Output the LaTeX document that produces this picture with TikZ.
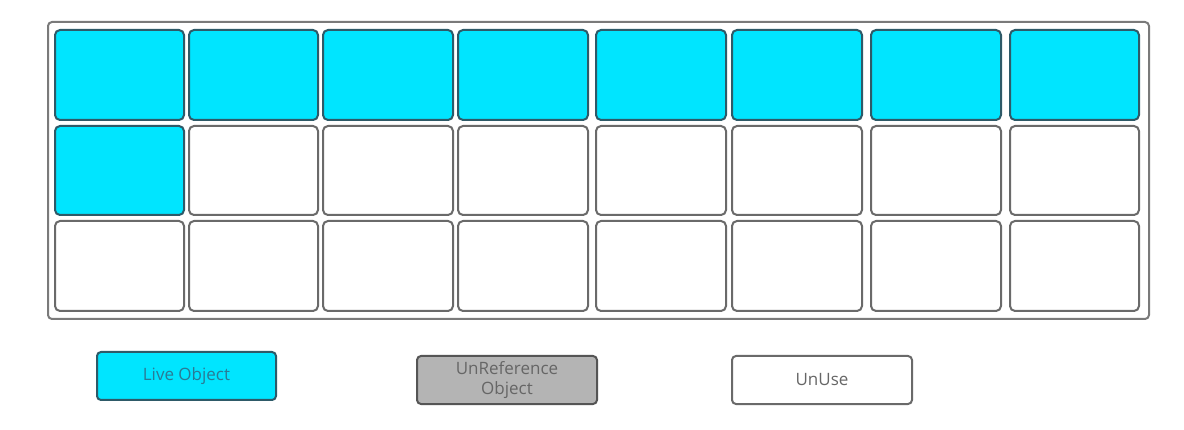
\documentclass[tikz,border=0pt]{standalone}
\usepackage{fontspec}
\setmainfont{Open Sans}
\definecolor{cyanfill}{HTML}{00E5FF}
\definecolor{liveborder}{HTML}{2E5A68}
\definecolor{cellgray}{HTML}{6A6A6A}
\definecolor{framegray}{HTML}{7A7A7A}
\definecolor{unreffill}{HTML}{B4B4B4}
\definecolor{unrefborder}{HTML}{555555}
\definecolor{livetext}{HTML}{2A7A95}
\definecolor{graytext}{HTML}{666666}
\begin{document}
\begin{tikzpicture}[x=1pt,y=-1pt,
  cell/.style={draw=cellgray, line width=2pt, rounded corners=5pt, fill=white, inner sep=0pt},
  live/.style={cell, fill=cyanfill, draw=liveborder},
  legendbox/.style={line width=2pt, rounded corners=4pt, inner sep=0pt, minimum width=180pt, minimum height=48pt, align=center, font=\fontsize{17}{20}\selectfont}]
\useasboundingbox (0,0) rectangle (1184,430);
\fill[white] (0,0) rectangle (1184,430);
\node[draw=framegray, line width=2pt, rounded corners=4pt, inner sep=0pt,
      minimum width=1101pt, minimum height=297pt] (frame) at (598.5,170.5) {};
\foreach \t/\b [count=\j] in {30/120,126/215,221/311}{
  \foreach \l/\r [count=\i] in {55/184,189/318,323/453,458/588,596/726,732/862,871/1001,1010/1139}{
    \pgfmathtruncatemacro\islive{(\j==1)||((\j==2)&&(\i==1))}
    \ifnum\islive=1 \tikzset{cs/.style={live}}\else\tikzset{cs/.style={cell}}\fi
    \node[cs, minimum width={\r-\l}, minimum height={\b-\t}] (c\j-\i) at ({(\l+\r)/2},{(\t+\b)/2}) {};
  }
}
\node[legendbox, draw=liveborder, fill=cyanfill, text=livetext, minimum width=179pt] (lgLive) at (186.5,376) {Live Object};
\node[legendbox, draw=unrefborder, fill=unreffill, text=graytext] (lgUnref) at (507,380) {UnReference\\Object};
\node[legendbox, draw=cellgray, fill=white, text=graytext] (lgUnuse) at (822,380) {UnUse};
\end{tikzpicture}
\end{document}
